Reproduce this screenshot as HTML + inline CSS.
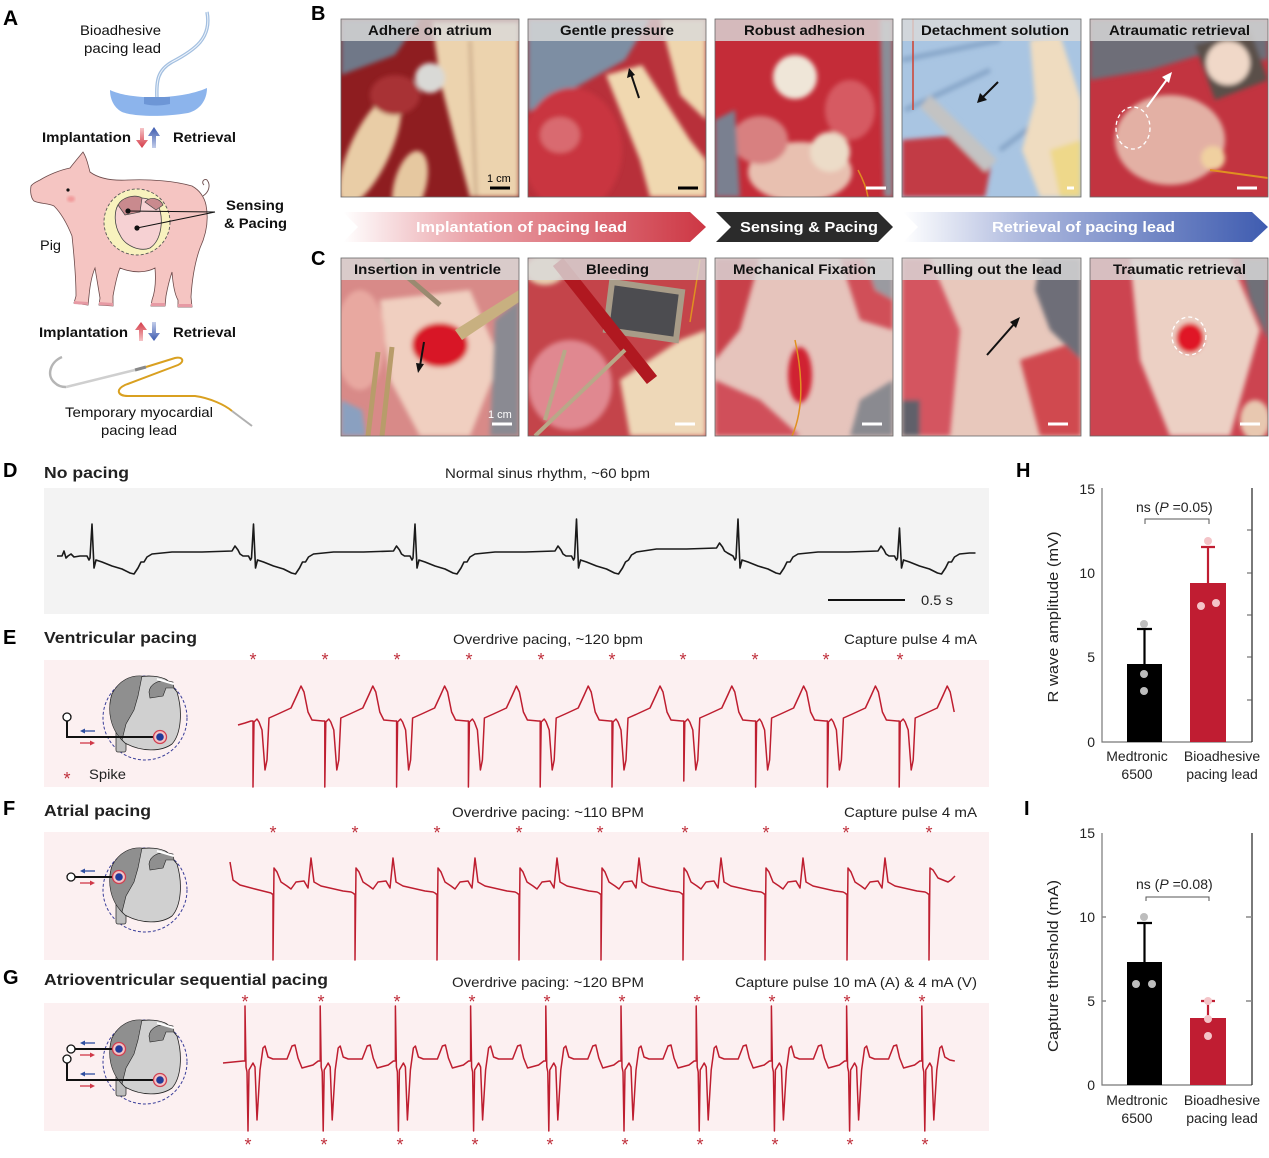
<!DOCTYPE html>
<html><head><meta charset="utf-8"><style>
html,body{margin:0;padding:0;background:#fff;}
svg{display:block;}
text{font-family:"Liberation Sans",Arial,sans-serif;}
</style></head><body>
<svg width="1269" height="1158" viewBox="0 0 1269 1158" xmlns="http://www.w3.org/2000/svg">
<defs>
<filter id="bl" x="-10%" y="-10%" width="120%" height="120%"><feGaussianBlur stdDeviation="2.5"/></filter>
<filter id="bl2"><feGaussianBlur stdDeviation="1.2"/></filter>
<clipPath id="cb1"><rect x="341" y="19" width="178" height="178"/></clipPath>
<clipPath id="cb2"><rect x="528" y="19" width="178" height="178"/></clipPath>
<clipPath id="cb3"><rect x="715" y="19" width="178" height="178"/></clipPath>
<clipPath id="cb4"><rect x="902" y="19" width="179" height="178"/></clipPath>
<clipPath id="cb5"><rect x="1090" y="19" width="178" height="178"/></clipPath>
<clipPath id="cc1"><rect x="341" y="258" width="178" height="178"/></clipPath>
<clipPath id="cc2"><rect x="528" y="258" width="178" height="178"/></clipPath>
<clipPath id="cc3"><rect x="715" y="258" width="178" height="178"/></clipPath>
<clipPath id="cc4"><rect x="902" y="258" width="179" height="178"/></clipPath>
<clipPath id="cc5"><rect x="1090" y="258" width="178" height="178"/></clipPath>
<linearGradient id="gRed" x1="0" x2="1" y1="0" y2="0"><stop offset="0" stop-color="#ffffff"/><stop offset="0.35" stop-color="#eaa3a9"/><stop offset="1" stop-color="#cd3744"/></linearGradient>
<linearGradient id="gBlue" x1="0" x2="1" y1="0" y2="0"><stop offset="0" stop-color="#ffffff"/><stop offset="0.35" stop-color="#a9b5dc"/><stop offset="1" stop-color="#3f5cb0"/></linearGradient>
<linearGradient id="aRd" x1="0" x2="0" y1="0" y2="1"><stop offset="0" stop-color="#f6c4c7"/><stop offset="1" stop-color="#d43a47"/></linearGradient>
<linearGradient id="aRu" x1="0" x2="0" y1="1" y2="0"><stop offset="0" stop-color="#f6c4c7"/><stop offset="1" stop-color="#d43a47"/></linearGradient>
<linearGradient id="aBu" x1="0" x2="0" y1="1" y2="0"><stop offset="0" stop-color="#c3cdea"/><stop offset="1" stop-color="#3a58ae"/></linearGradient>
<linearGradient id="aBd" x1="0" x2="0" y1="0" y2="1"><stop offset="0" stop-color="#c3cdea"/><stop offset="1" stop-color="#3a58ae"/></linearGradient>
<g id="hrt">
<circle r="42" fill="none" stroke="#3b3f9a" stroke-width="1" stroke-dasharray="3,2"/>
<rect x="-29" y="6" width="10" height="28" rx="2" fill="#bdbdbd" stroke="#333" stroke-width="0.8"/>
<path d="M-33,-24 C-24,-42 8,-46 22,-38 L32,-26 C38,-6 36,16 27,26 C16,34 -4,34 -20,25 C-34,12 -38,-8 -33,-24Z" fill="#d0d0d0" stroke="#222" stroke-width="0.8"/>
<path d="M-33,-24 C-26,-38 -14,-43 -3,-42 L-7,-22 L-11,-8 L-19,6 L-23,22 C-35,10 -38,-8 -33,-24Z" fill="#8f8f8f" stroke="#222" stroke-width="0.6"/>
<path d="M4,-26 C5,-34 14,-40 28,-36 L29,-30 L21,-30 L18,-22 L5,-20Z" fill="#8f8f8f" stroke="#222" stroke-width="0.6"/>
<path d="M12,-39 L29,-34" stroke="#fff" stroke-width="2"/>
</g>
<g id="elec"><circle r="6.5" fill="#f3c2c5" stroke="#d04050" stroke-width="1.3"/><circle r="3.8" fill="#1f3a9a"/></g>
<g id="larr"><path d="M0,0 L-13,0" stroke="#2e4ea0" stroke-width="1.3"/><path d="M-15,0 L-10,-2.5 L-10,2.5Z" fill="#2e4ea0"/></g>
<g id="rarr"><path d="M-15,0 L-2,0" stroke="#d03848" stroke-width="1.3"/><path d="M0,0 L-5,-2.5 L-5,2.5Z" fill="#d03848"/></g>
</defs>

<!-- ================= PANEL A ================= -->
<text x="3" y="25" font-size="21" font-weight="bold" fill="#000">A</text>
<text x="80" y="35" font-size="14" fill="#111" textLength="81" lengthAdjust="spacingAndGlyphs">Bioadhesive</text>
<text x="84" y="53" font-size="14" fill="#111" textLength="77" lengthAdjust="spacingAndGlyphs">pacing lead</text>
<path d="M157,99 C156,80 158,70 172,62 C195,50 212,38 207,12" fill="none" stroke="#a3bfe0" stroke-width="3.5"/>
<path d="M157,99 C156,80 158,70 172,62 C195,50 212,38 207,12" fill="none" stroke="#eef4fb" stroke-width="1"/>
<path d="M110,90 C130,100 180,100 207,88 C207,100 200,110 188,113 C165,117 135,117 122,112 C113,107 110,98 110,90 Z" fill="#8cb4ec"/>
<path d="M144,97 L170,97 L170,104 C160,106 152,106 144,104 Z" fill="#6d96d6"/>

<text x="42" y="142" font-size="14" font-weight="bold" fill="#111" textLength="89" lengthAdjust="spacingAndGlyphs">Implantation</text>
<path d="M140,128 L144,128 L144,140 L148,140 L142,148 L136,140 L140,140Z" fill="url(#aRd)"/>
<path d="M152,148 L156,148 L156,136 L160,136 L154,127 L148,136 L152,136Z" fill="url(#aBu)"/>
<text x="173" y="142" font-size="14" font-weight="bold" fill="#111" textLength="63" lengthAdjust="spacingAndGlyphs">Retrieval</text>

<!-- pig -->
<path d="M31,186 C30,192 31,198 34,201 C40,204 48,203 54,206 C62,214 68,226 72,236 C74,255 76,275 76,296 L74,303 L88,305 L89,296 C90,285 92,275 95,268 C97,280 99,292 100,298 L99,305 L113,306 L113,296 C115,285 117,275 120,268 C135,274 148,272 155,268 C156,280 155,292 152,300 L151,306 L165,306 L166,296 C168,285 170,278 172,272 C173,285 175,295 178,300 L178,307 L192,307 L191,297 C192,280 195,262 200,248 C206,235 209,220 206,205 C204,196 199,190 192,186 C175,181 150,179 128,180 C110,181 98,178 90,172 C88,165 87,158 83,152 C78,158 73,164 70,168 C60,170 48,175 40,180 C36,182 33,183 31,186 Z" fill="#f5c5c2" stroke="#6b4a4a" stroke-width="0.8"/>
<path d="M74,301 L88,302 L88,305 L74,304Z M99,302 L113,303 L113,306 L99,305Z M151,303 L165,303 L165,306 L151,306Z M178,304 L192,304 L192,307 L178,307Z" fill="#e69aa4"/>
<path d="M203,196 C209,192 211,185 207,180 C204,178 201,182 204,185" fill="none" stroke="#6b4a4a" stroke-width="0.9"/>
<circle cx="68" cy="190" r="1.6" fill="#111"/>
<ellipse cx="71" cy="199" rx="4" ry="3" fill="#f29a9a" filter="url(#bl2)"/>
<circle cx="137" cy="222" r="33" fill="#f8f2be" stroke="#555" stroke-width="0.9" stroke-dasharray="3,2"/>
<path d="M118,205 C125,196 150,195 158,205 C164,218 162,240 150,248 C140,252 125,246 120,235 C114,225 114,212 118,205Z" fill="#f6d1d3" stroke="#444" stroke-width="0.8"/>
<path d="M118,205 C122,197 135,194 142,198 L140,212 L125,215 Z" fill="#c98a8e" stroke="#444" stroke-width="0.7"/>
<path d="M145,202 C150,196 160,198 163,205 L156,210 Z" fill="#c98a8e" stroke="#444" stroke-width="0.7"/>
<path d="M128,211 L215,212 M137,228 L215,212" stroke="#111" stroke-width="1.1"/>
<circle cx="128" cy="211" r="2.6" fill="#111"/><circle cx="137" cy="228" r="2.6" fill="#111"/>
<text x="226" y="210" font-size="14" font-weight="bold" fill="#111" textLength="58" lengthAdjust="spacingAndGlyphs">Sensing</text>
<text x="224" y="228" font-size="14" font-weight="bold" fill="#111" textLength="63" lengthAdjust="spacingAndGlyphs">&amp; Pacing</text>
<text x="40" y="250" font-size="14" fill="#111" textLength="21" lengthAdjust="spacingAndGlyphs">Pig</text>

<text x="39" y="337" font-size="14" font-weight="bold" fill="#111" textLength="89" lengthAdjust="spacingAndGlyphs">Implantation</text>
<path d="M139,341 L143,341 L143,330 L147,330 L141,322 L135,330 L139,330Z" fill="url(#aRu)"/>
<path d="M152,322 L156,322 L156,333 L160,333 L154,341 L148,333 L152,333Z" fill="url(#aBd)"/>
<text x="173" y="337" font-size="14" font-weight="bold" fill="#111" textLength="63" lengthAdjust="spacingAndGlyphs">Retrieval</text>

<path d="M62,357 C50,362 46,376 55,383 C58,386 62,387 66,387" fill="none" stroke="#b5b5b5" stroke-width="2.5"/>
<path d="M66,387 L135,370" stroke="#cfcfcf" stroke-width="2.5"/>
<path d="M135,370 L146,367" stroke="#888" stroke-width="3"/>
<path d="M146,367 L175,358 C183,356 185,362 178,365 L125,385 C115,390 118,396 128,396 L195,396 C210,398 225,405 232,411" fill="none" stroke="#d9a020" stroke-width="2"/>
<path d="M232,411 L252,426" stroke="#b0b0b0" stroke-width="2"/>
<text x="65" y="417" font-size="14" fill="#111" textLength="148" lengthAdjust="spacingAndGlyphs">Temporary myocardial</text>
<text x="101" y="435" font-size="14" fill="#111" textLength="76" lengthAdjust="spacingAndGlyphs">pacing lead</text>

<!-- ================= PANEL B ================= -->
<text x="311" y="20" font-size="20" font-weight="bold" fill="#000">B</text>
<!-- B1 -->
<g clip-path="url(#cb1)">
<rect x="341" y="19" width="178" height="178" fill="#8e1d20"/>
<g filter="url(#bl)">
<path d="M341,19 L420,19 L395,55 L341,75Z" fill="#6f7888"/>
<path d="M432,22 L519,22 L519,197 L470,197 L455,140 L440,80 Z" fill="#ecd3ae"/>
<ellipse cx="370" cy="150" rx="20" ry="60" transform="rotate(25 370 150)" fill="#e9cda6"/>
<ellipse cx="410" cy="185" rx="16" ry="35" transform="rotate(15 410 185)" fill="#e6c8a0"/>
<path d="M470,40 L476,197" stroke="#c9a888" stroke-width="3"/>
<circle cx="430" cy="78" r="15" fill="#d9d9d6"/>
<ellipse cx="395" cy="95" rx="25" ry="20" fill="#a83036"/>
</g>
<path d="M490,188 L510,188" stroke="#000" stroke-width="3"/>
<text x="487" y="182" font-size="11" fill="#000">1 cm</text>
</g>
<!-- B2 -->
<g clip-path="url(#cb2)">
<rect x="528" y="19" width="178" height="178" fill="#b8303a"/>
<g filter="url(#bl)">
<path d="M528,19 L650,19 L625,60 L580,85 L528,112 Z" fill="#7d8ea3"/>
<ellipse cx="572" cy="150" rx="50" ry="62" fill="#c9363f"/>
<ellipse cx="560" cy="135" rx="20" ry="18" fill="#d96a70"/>
<path d="M606,75 L642,65 L690,140 L706,160 L706,197 L650,197 L640,160 Z" fill="#f0d8b0"/>
<path d="M660,19 L706,19 L706,120 L680,95 Z" fill="#efd6ae"/>
</g>
<path d="M639,98 L631,74" stroke="#111" stroke-width="2"/><path d="M629,68 L627,78 L635,75Z" fill="#111"/>
<path d="M678,188 L698,188" stroke="#000" stroke-width="3"/>
</g>
<!-- B3 -->
<g clip-path="url(#cb3)">
<rect x="715" y="19" width="178" height="178" fill="#c42c38"/>
<g filter="url(#bl)">
<ellipse cx="800" cy="172" rx="52" ry="30" fill="#e8c0b0"/>
<ellipse cx="760" cy="140" rx="28" ry="24" fill="#d88080"/>
<ellipse cx="850" cy="110" rx="25" ry="30" fill="#d65a62"/>
<path d="M715,120 L735,110 L740,197 L715,197 Z" fill="#7a8090"/>
<path d="M880,19 L893,19 L893,197 L884,197 Z" fill="#8a8e98"/>
<circle cx="795" cy="77" r="22" fill="#efe6d8"/>
<circle cx="830" cy="152" r="20" fill="#ecdcc8"/>
</g>
<path d="M858,170 Q866,185 868,197" fill="none" stroke="#e08a20" stroke-width="1.5"/>
<path d="M866,188 L886,188" stroke="#fff" stroke-width="3"/>
</g>
<!-- B4 -->
<g clip-path="url(#cb4)">
<rect x="902" y="19" width="179" height="178" fill="#a9c5e2"/>
<g filter="url(#bl)">
<path d="M902,60 L1000,40 M905,110 L990,70 M1000,150 L1040,120" stroke="#86a5c8" stroke-width="5" fill="none"/>
<path d="M902,140 L960,135 L992,160 L985,197 L902,197 Z" fill="#c23b45"/>
<path d="M930,95 L997,160 L985,172 L920,107Z" fill="#c3c3c3"/>
<path d="M1030,40 L1060,35 L1081,100 L1081,197 L1040,197 L1022,150 L1035,100 Z" fill="#efdcc0"/>
<path d="M1050,150 L1081,140 L1081,197 L1060,197Z" fill="#eed88a"/>
</g>
<path d="M913,19 L913,110" stroke="#d04030" stroke-width="1.5"/>
<path d="M998,82 L982,98" stroke="#111" stroke-width="2"/><path d="M977,103 L980,93 L987,100Z" fill="#111"/>
<path d="M1067,188 L1074,188" stroke="#fff" stroke-width="3"/>
</g>
<!-- B5 -->
<g clip-path="url(#cb5)">
<rect x="1090" y="19" width="178" height="178" fill="#c23440"/>
<g filter="url(#bl)">
<path d="M1090,19 L1268,19 L1268,60 L1200,55 L1150,70 L1090,80 Z" fill="#6e6e78"/>
<ellipse cx="1170" cy="140" rx="55" ry="45" fill="#e3b0a4"/>
<path d="M1195,45 L1250,30 L1268,80 L1215,100Z" fill="#5a5048"/>
<circle cx="1228" cy="63" r="22" fill="#f0d8c8"/>
<circle cx="1213" cy="158" r="12" fill="#f0d0a0"/>
</g>
<path d="M1210,170 L1268,178" stroke="#e09020" stroke-width="2"/>
<ellipse cx="1133" cy="128" rx="17" ry="21" fill="none" stroke="#fff" stroke-width="1.3" stroke-dasharray="4,3"/>
<path d="M1147,107 L1168,78" stroke="#fff" stroke-width="2"/><path d="M1172,72 L1162,77 L1169,83Z" fill="#fff"/>
<path d="M1237,188 L1257,188" stroke="#fff" stroke-width="3"/>
</g>
<!-- B headers -->
<g fill="#d9d9d9" fill-opacity="0.82">
<rect x="341" y="19" width="178" height="22"/><rect x="528" y="19" width="178" height="22"/><rect x="715" y="19" width="178" height="22"/><rect x="902" y="19" width="179" height="22"/><rect x="1090" y="19" width="178" height="22"/>
</g>
<g font-size="14" font-weight="bold" fill="#111">
<text x="368" y="35" textLength="124" lengthAdjust="spacingAndGlyphs">Adhere on atrium</text>
<text x="560" y="35" textLength="114" lengthAdjust="spacingAndGlyphs">Gentle pressure</text>
<text x="744" y="35" textLength="121" lengthAdjust="spacingAndGlyphs">Robust adhesion</text>
<text x="921" y="35" textLength="148" lengthAdjust="spacingAndGlyphs">Detachment solution</text>
<text x="1109" y="35" textLength="141" lengthAdjust="spacingAndGlyphs">Atraumatic retrieval</text>
</g>
<g fill="none" stroke="#666" stroke-width="0.8">
<rect x="341" y="19" width="178" height="178"/><rect x="528" y="19" width="178" height="178"/><rect x="715" y="19" width="178" height="178"/><rect x="902" y="19" width="179" height="178"/><rect x="1090" y="19" width="178" height="178"/>
</g>

<!-- banner -->
<path d="M343,212 L690,212 L706,227 L690,242 L343,242 L358,227Z" fill="url(#gRed)"/>
<path d="M716,212 L878,212 L893,227 L878,242 L716,242 L731,227Z" fill="#2b2b2b"/>
<path d="M903,212 L1252,212 L1268,227 L1252,242 L903,242 L918,227Z" fill="url(#gBlue)"/>
<g font-size="15" font-weight="bold" fill="#fff">
<text x="416" y="232" textLength="211" lengthAdjust="spacingAndGlyphs">Implantation of pacing lead</text>
<text x="740" y="232" textLength="138" lengthAdjust="spacingAndGlyphs">Sensing &amp; Pacing</text>
<text x="992" y="232" textLength="183" lengthAdjust="spacingAndGlyphs">Retrieval of pacing lead</text>
</g>

<!-- ================= PANEL C ================= -->
<text x="311" y="265" font-size="20" font-weight="bold" fill="#000">C</text>
<!-- C1 -->
<g clip-path="url(#cc1)">
<rect x="341" y="258" width="178" height="178" fill="#d88a88"/>
<g filter="url(#bl)">
<path d="M380,300 L470,290 L500,360 L470,436 L420,436 L390,380 Z" fill="#f0cfc0"/>
<ellipse cx="360" cy="340" rx="25" ry="50" fill="#e8a8a0"/>
<ellipse cx="440" cy="345" rx="28" ry="22" fill="#d81828"/>
<path d="M495,320 L519,300 L519,436 L490,436 Z" fill="#8a8a92"/>
<path d="M341,400 L362,410 L366,436 L341,436 Z" fill="#8aa0c0"/>
</g>
<path d="M385,258 L440,305" stroke="#9a8a70" stroke-width="5"/>
<path d="M378,352 L368,436 M392,347 L382,436" stroke="#b89c6a" stroke-width="5"/>
<path d="M455,330 L519,290 L519,302 L462,340Z" fill="#c8b080"/>
<path d="M424,342 L420,366" stroke="#111" stroke-width="2"/><path d="M418,373 L416,363 L424,364Z" fill="#111"/>
<path d="M492,424 L512,424" stroke="#fff" stroke-width="3"/>
<text x="488" y="418" font-size="11" fill="#fff">1 cm</text>
</g>
<!-- C2 -->
<g clip-path="url(#cc2)">
<rect x="528" y="258" width="178" height="178" fill="#c4444a"/>
<g filter="url(#bl)">
<ellipse cx="570" cy="385" rx="42" ry="45" fill="#e08890"/>
<ellipse cx="545" cy="270" rx="20" ry="15" fill="#e8d0b0"/>
<path d="M620,380 L680,340 L706,330 L706,436 L630,436 Z" fill="#eed8b8"/>
</g>
<path d="M612,282 L682,292 L676,340 L606,330Z" fill="#4c4c50" stroke="#a89c88" stroke-width="6"/>
<path d="M558,262 L652,380" stroke="#b01820" stroke-width="13"/>
<path d="M535,436 L625,350 M545,420 L565,350" stroke="#b8a888" stroke-width="4"/>
<path d="M700,260 L690,322" stroke="#e09020" stroke-width="1.5"/>
<path d="M675,424 L695,424" stroke="#fff" stroke-width="3"/>
</g>
<!-- C3 -->
<g clip-path="url(#cc3)">
<rect x="715" y="258" width="178" height="178" fill="#e6c4bc"/>
<g filter="url(#bl)">
<path d="M715,258 L760,258 L740,330 L715,360 Z" fill="#c8404a"/>
<path d="M715,380 L760,400 L800,436 L715,436 Z" fill="#d0505a"/>
<path d="M840,258 L893,258 L893,330 L860,320 Z" fill="#d05058"/>
<ellipse cx="800" cy="375" rx="12" ry="28" fill="#d02030"/>
<path d="M860,400 L893,380 L893,436 L850,436 Z" fill="#8a8a90"/>
<path d="M865,258 L893,258 L893,300 L875,290Z" fill="#9a9aa0"/>
</g>
<path d="M795,340 Q808,400 792,436" fill="none" stroke="#e09020" stroke-width="1.5"/>
<path d="M862,424 L882,424" stroke="#fff" stroke-width="3"/>
</g>
<!-- C4 -->
<g clip-path="url(#cc4)">
<rect x="902" y="258" width="179" height="178" fill="#e8c8bc"/>
<g filter="url(#bl)">
<path d="M902,258 L930,258 L960,330 L950,436 L902,436 Z" fill="#d45560"/>
<path d="M1020,360 L1081,340 L1081,436 L1040,436 Z" fill="#d04850"/>
<path d="M1040,258 L1081,258 L1081,360 L1050,330 L1035,290 Z" fill="#6e6e78"/>
<rect x="902" y="400" width="18" height="36" fill="#60606a"/>
</g>
<path d="M987,355 L1015,323" stroke="#111" stroke-width="2"/><path d="M1020,317 L1016,328 L1010,322Z" fill="#111"/>
<path d="M1048,424 L1068,424" stroke="#fff" stroke-width="3"/>
</g>
<!-- C5 -->
<g clip-path="url(#cc5)">
<rect x="1090" y="258" width="178" height="178" fill="#cc4450"/>
<g filter="url(#bl)">
<path d="M1130,258 L1230,258 L1260,330 L1230,436 L1170,436 L1140,360 Z" fill="#ecd0c4"/>
<path d="M1240,258 L1268,258 L1268,340 L1250,300 Z" fill="#707078"/>
<ellipse cx="1190" cy="338" rx="14" ry="15" fill="#e01828"/>
<ellipse cx="1255" cy="420" rx="15" ry="20" fill="#e8c8b0"/>
</g>
<ellipse cx="1189" cy="336" rx="17" ry="19" fill="none" stroke="#fff" stroke-width="1.3" stroke-dasharray="4,3"/>
<path d="M1240,424 L1260,424" stroke="#fff" stroke-width="3"/>
</g>
<g fill="#d9d9d9" fill-opacity="0.82">
<rect x="341" y="258" width="178" height="22"/><rect x="528" y="258" width="178" height="22"/><rect x="715" y="258" width="178" height="22"/><rect x="902" y="258" width="179" height="22"/><rect x="1090" y="258" width="178" height="22"/>
</g>
<g font-size="14" font-weight="bold" fill="#111">
<text x="354" y="274" textLength="147" lengthAdjust="spacingAndGlyphs">Insertion in ventricle</text>
<text x="586" y="274" textLength="63" lengthAdjust="spacingAndGlyphs">Bleeding</text>
<text x="733" y="274" textLength="143" lengthAdjust="spacingAndGlyphs">Mechanical Fixation</text>
<text x="923" y="274" textLength="139" lengthAdjust="spacingAndGlyphs">Pulling out the lead</text>
<text x="1113" y="274" textLength="133" lengthAdjust="spacingAndGlyphs">Traumatic retrieval</text>
</g>
<g fill="none" stroke="#666" stroke-width="0.8">
<rect x="341" y="258" width="178" height="178"/><rect x="528" y="258" width="178" height="178"/><rect x="715" y="258" width="178" height="178"/><rect x="902" y="258" width="179" height="178"/><rect x="1090" y="258" width="178" height="178"/>
</g>

<!-- ================= PANEL D ================= -->
<text x="3" y="477" font-size="20" font-weight="bold" fill="#000">D</text>
<text x="44" y="478" font-size="16" font-weight="bold" fill="#222" textLength="85" lengthAdjust="spacingAndGlyphs">No pacing</text>
<text x="445" y="478" font-size="14" fill="#222" textLength="205" lengthAdjust="spacingAndGlyphs">Normal sinus rhythm, ~60 bpm</text>
<rect x="44" y="488" width="945" height="126" fill="#f3f3f3"/>
<path fill="none" stroke="#1a1a1a" stroke-width="1.6" stroke-linejoin="round" d="M57,556 L62,556 L64,551 L66,558 L68,556 L71,554 L74,557 L80,556 L87,556
l2,4 l1,-2 l2,-34 l2,44 l2,-8 l6,2 l10,4 l10,3 l8,4 l4,1 l4,-6 l3,-6 l3,0 l3,-5 l5,-3 l20,-2 l30,0 l30,-1 l3,-5 l3,4 l2,4 l3,2 l5.5,0
l2,4 l1,-2 l2,-34 l2,44 l2,-8 l6,2 l10,4 l10,3 l8,4 l4,1 l4,-6 l3,-6 l3,0 l3,-5 l5,-3 l20,-2 l30,0 l30,-1 l3,-5 l3,4 l2,4 l3,2 l5.5,0
l2,4 l1,-2 l2,-34 l2,44 l2,-8 l6,2 l10,4 l10,3 l8,4 l4,1 l4,-6 l3,-6 l3,0 l3,-5 l5,-3 l20,-2 l30,0 l30,-1 l3,-5 l3,4 l2,4 l3,2 l5.5,0
l2,4 l1,-2 l2,-39 l2,49 l2,-8 l6,2 l10,4 l10,3 l8,4 l4,1 l4,-6 l3,-6 l3,-2 l3,-5 l5,-3 l20,-3 l30,0 l30,-1 l3,-5 l3,4 l2,4 l3,2 l5.5,3
l2,4 l1,-2 l2,-39 l2,49 l2,-8 l6,2 l10,4 l10,3 l8,4 l4,1 l4,-6 l3,-6 l3,0 l3,-5 l5,-3 l20,-2 l30,0 l30,-1 l3,-5 l3,4 l2,4 l3,2 l5.5,0
l2,4 l1,-2 l2,-30 l2,40 l2,-8 l6,2 l10,4 l10,3 l8,4 l4,1 l4,-6 l3,-6 l3,0 l3,-5 l5,-3 l10,-1 l6,0"/>
<path d="M828,600 L905,600" stroke="#111" stroke-width="2"/>
<text x="921" y="605" font-size="14" fill="#222" textLength="32" lengthAdjust="spacingAndGlyphs">0.5 s</text>

<!-- ================= PANEL E ================= -->
<text x="3" y="644" font-size="20" font-weight="bold" fill="#000">E</text>
<text x="44" y="643" font-size="16" font-weight="bold" fill="#222" textLength="153" lengthAdjust="spacingAndGlyphs">Ventricular pacing</text>
<text x="453" y="644" font-size="14" fill="#222" textLength="190" lengthAdjust="spacingAndGlyphs">Overdrive pacing, ~120 bpm</text>
<text x="844" y="644" font-size="14" fill="#222" textLength="133" lengthAdjust="spacingAndGlyphs">Capture pulse 4 mA</text>
<rect x="44" y="660" width="945" height="127" fill="#fcf0f1"/>
<g font-size="18" fill="#c0303c" text-anchor="middle">
<text x="253" y="666">*</text><text x="325" y="666">*</text><text x="397" y="666">*</text><text x="469" y="666">*</text><text x="541" y="666">*</text><text x="612" y="666">*</text><text x="683" y="666">*</text><text x="755" y="666">*</text><text x="826" y="666">*</text><text x="900" y="666">*</text>
</g>
<use href="#hrt" x="145" y="718"/>
<path d="M67,721 L67,737 L160,737" fill="none" stroke="#111" stroke-width="2"/>
<circle cx="67" cy="717" r="4" fill="#fff" stroke="#111" stroke-width="1.3"/>
<use href="#elec" x="160" y="737"/>
<use href="#larr" x="95" y="731"/>
<use href="#rarr" x="95" y="743"/>
<text x="67" y="785" font-size="18" fill="#c0303c" text-anchor="middle">*</text>
<text x="89" y="779" font-size="14" fill="#222" textLength="37" lengthAdjust="spacingAndGlyphs">Spike</text>
<path fill="none" stroke="#be1e30" stroke-width="1.5" stroke-linejoin="round" d="M238,725 L245,723 L251,721
l2,0 l0,66 l1,-65 l3,-3 l2,3 l3,8 l3,40 l2,-10 l2,-42 l9,-4 l13,-6 l6,-13 l4,-9 l3,6 l4,20 l4,8 l10.8,1
l2,0 l0,66 l1,-65 l3,-3 l2,3 l3,8 l3,40 l2,-10 l2,-42 l9,-4 l13,-6 l6,-13 l4,-9 l3,6 l4,20 l4,8 l10.8,1
l2,0 l0,66 l1,-65 l3,-3 l2,3 l3,8 l3,40 l2,-10 l2,-42 l9,-4 l13,-6 l6,-13 l4,-9 l3,6 l4,20 l4,8 l10.8,1
l2,0 l0,66 l1,-65 l3,-3 l2,3 l3,8 l3,40 l2,-10 l2,-42 l9,-4 l13,-6 l6,-13 l4,-9 l3,6 l4,20 l4,8 l10.8,1
l2,0 l0,66 l1,-65 l3,-3 l2,3 l3,8 l3,40 l2,-10 l2,-42 l9,-4 l13,-6 l6,-13 l4,-9 l3,6 l4,20 l4,8 l10.8,1
l2,0 l0,66 l1,-65 l3,-3 l2,3 l3,8 l3,40 l2,-10 l2,-42 l9,-4 l13,-6 l6,-13 l4,-9 l3,6 l4,20 l4,8 l10.8,1
l2,0 l0,60 l1,-59 l3,-3 l2,3 l3,8 l3,40 l2,-10 l2,-42 l9,-4 l13,-6 l6,-13 l4,-9 l3,6 l4,20 l4,8 l10.8,1
l2,0 l0,66 l1,-65 l3,-3 l2,3 l3,8 l3,40 l2,-10 l2,-42 l9,-4 l13,-6 l6,-13 l4,-9 l3,6 l4,20 l4,8 l10.8,1
l2,0 l0,66 l1,-65 l3,-3 l2,3 l3,8 l3,40 l2,-10 l2,-42 l9,-4 l13,-6 l6,-13 l4,-9 l3,6 l4,20 l4,8 l10.8,1
l2,0 l0,66 l1,-65 l3,-3 l2,3 l3,8 l3,40 l2,-10 l2,-42 l9,-4 l13,-6 l6,-13 l4,-9 l3,6 l4,20"/>

<!-- ================= PANEL F ================= -->
<text x="3" y="815" font-size="20" font-weight="bold" fill="#000">F</text>
<text x="44" y="816" font-size="16" font-weight="bold" fill="#222" textLength="107" lengthAdjust="spacingAndGlyphs">Atrial pacing</text>
<text x="452" y="817" font-size="14" fill="#222" textLength="192" lengthAdjust="spacingAndGlyphs">Overdrive pacing: ~110 BPM</text>
<text x="844" y="817" font-size="14" fill="#222" textLength="133" lengthAdjust="spacingAndGlyphs">Capture pulse 4 mA</text>
<rect x="44" y="832" width="945" height="128" fill="#fcf0f1"/>
<g font-size="18" fill="#c0303c" text-anchor="middle">
<text x="273" y="839">*</text><text x="355" y="839">*</text><text x="437" y="839">*</text><text x="519" y="839">*</text><text x="600" y="839">*</text><text x="685" y="839">*</text><text x="766" y="839">*</text><text x="846" y="839">*</text><text x="929" y="839">*</text>
</g>
<use href="#hrt" x="145" y="890"/>
<path d="M75,877 L119,877" stroke="#111" stroke-width="2"/>
<circle cx="71" cy="877" r="4" fill="#fff" stroke="#111" stroke-width="1.3"/>
<use href="#elec" x="119" y="877"/>
<use href="#larr" x="95" y="871"/>
<use href="#rarr" x="95" y="883"/>
<path fill="none" stroke="#be1e30" stroke-width="1.5" stroke-linejoin="round" d="M230,862 L233,880 L240,885 L255,889 L271,893
l1,1 l1,0 l0,66 l1,-92 l3,4 l4,10 l6,4 l4,3 l5,-7 l8,-1 l4,7 l3,-30 l3,24 l7,4 l22,5 l8,1 l2,1
l1,1 l1,0 l0,66 l1,-92 l3,4 l4,10 l6,4 l4,3 l5,-7 l8,-1 l4,7 l3,-30 l3,24 l7,4 l22,5 l8,1 l2,1
l1,1 l1,0 l0,66 l1,-92 l3,4 l4,10 l6,4 l4,3 l5,-7 l8,-1 l4,7 l3,-30 l3,24 l7,4 l22,5 l8,1 l2,1
l1,1 l1,0 l0,66 l1,-92 l3,4 l4,10 l6,4 l4,3 l5,-7 l8,-1 l4,7 l3,-30 l3,24 l7,4 l22,5 l8,1 l2,1
l1,1 l1,0 l0,66 l1,-92 l3,4 l4,10 l6,4 l4,3 l5,-7 l8,-1 l4,7 l3,-30 l3,24 l7,4 l22,5 l8,1 l2,1
l1,1 l1,0 l0,66 l1,-92 l3,4 l4,10 l6,4 l4,3 l5,-7 l8,-1 l4,7 l3,-30 l3,24 l7,4 l22,5 l8,1 l2,1
l1,1 l1,0 l0,66 l1,-92 l3,4 l4,10 l6,4 l4,3 l5,-7 l8,-1 l4,7 l3,-30 l3,24 l7,4 l22,5 l8,1 l2,1
l1,1 l1,0 l0,66 l1,-92 l3,4 l4,10 l6,4 l4,3 l5,-7 l8,-1 l4,7 l3,-30 l3,24 l7,4 l22,5 l8,1 l2,1
l1,1 l1,0 l0,66 l1,-92 l3,2 l5,8 l10,4 l3,-2 l4,-4"/>

<!-- ================= PANEL G ================= -->
<text x="3" y="984" font-size="20" font-weight="bold" fill="#000">G</text>
<text x="44" y="985" font-size="16" font-weight="bold" fill="#222" textLength="284" lengthAdjust="spacingAndGlyphs">Atrioventricular sequential pacing</text>
<text x="452" y="987" font-size="14" fill="#222" textLength="192" lengthAdjust="spacingAndGlyphs">Overdrive pacing: ~120 BPM</text>
<text x="735" y="987" font-size="14" fill="#222" textLength="242" lengthAdjust="spacingAndGlyphs">Capture pulse 10 mA (A) &amp; 4 mA (V)</text>
<rect x="44" y="1003" width="945" height="128" fill="#fcf0f1"/>
<g font-size="18" fill="#c0303c" text-anchor="middle">
<text x="245" y="1008">*</text><text x="321" y="1008">*</text><text x="397" y="1008">*</text><text x="472" y="1008">*</text><text x="547" y="1008">*</text><text x="622" y="1008">*</text><text x="697" y="1008">*</text><text x="772" y="1008">*</text><text x="847" y="1008">*</text><text x="922" y="1008">*</text>
<text x="248" y="1151">*</text><text x="324" y="1151">*</text><text x="400" y="1151">*</text><text x="475" y="1151">*</text><text x="550" y="1151">*</text><text x="625" y="1151">*</text><text x="700" y="1151">*</text><text x="775" y="1151">*</text><text x="850" y="1151">*</text><text x="925" y="1151">*</text>
</g>
<use href="#hrt" x="145" y="1062"/>
<path d="M75,1049 L119,1049" stroke="#111" stroke-width="2"/>
<path d="M67,1063 L67,1080 L160,1080" fill="none" stroke="#111" stroke-width="2"/>
<circle cx="71" cy="1049" r="4" fill="#fff" stroke="#111" stroke-width="1.3"/>
<circle cx="67" cy="1059" r="4" fill="#fff" stroke="#111" stroke-width="1.3"/>
<use href="#elec" x="119" y="1049"/>
<use href="#elec" x="160" y="1080"/>
<use href="#larr" x="95" y="1043"/>
<use href="#rarr" x="95" y="1055"/>
<use href="#larr" x="95" y="1074"/>
<use href="#rarr" x="95" y="1086"/>
<path fill="none" stroke="#be1e30" stroke-width="1.5" stroke-linejoin="round" d="M223,1063 L233,1062 L243,1061
l2,0 l0,-55 l1,61 l1,5 l1,59 l1,-61 l4,-7 l2,4 l2,53 l3,-50 l3,-22 l2,-2 l3,11 l5,2 l14,0 l5,-13 l3,-1 l3,13 l4,10 l11,-3 l5.2,-4
l2,0 l0,-55 l1,61 l1,5 l1,59 l1,-61 l4,-7 l2,4 l2,53 l3,-50 l3,-22 l2,-2 l3,11 l5,2 l14,0 l5,-13 l3,-1 l3,13 l4,10 l11,-3 l5.2,-4
l2,0 l0,-55 l1,61 l1,5 l1,59 l1,-61 l4,-7 l2,4 l2,53 l3,-50 l3,-22 l2,-2 l3,11 l5,2 l14,0 l5,-13 l3,-1 l3,13 l4,10 l11,-3 l5.2,-4
l2,0 l0,-55 l1,61 l1,5 l1,59 l1,-61 l4,-7 l2,4 l2,53 l3,-50 l3,-22 l2,-2 l3,11 l5,2 l14,0 l5,-13 l3,-1 l3,13 l4,10 l11,-3 l5.2,-4
l2,0 l0,-55 l1,61 l1,5 l1,59 l1,-61 l4,-7 l2,4 l2,53 l3,-50 l3,-22 l2,-2 l3,11 l5,2 l14,0 l5,-13 l3,-1 l3,13 l4,10 l11,-3 l5.2,-4
l2,0 l0,-55 l1,61 l1,5 l1,59 l1,-61 l4,-7 l2,4 l2,53 l3,-50 l3,-22 l2,-2 l3,11 l5,2 l14,0 l5,-13 l3,-1 l3,13 l4,10 l11,-3 l5.2,-4
l2,0 l0,-55 l1,61 l1,5 l1,59 l1,-61 l4,-7 l2,4 l2,53 l3,-50 l3,-22 l2,-2 l3,11 l5,2 l14,0 l5,-13 l3,-1 l3,13 l4,10 l11,-3 l5.2,-4
l2,0 l0,-55 l1,61 l1,5 l1,59 l1,-61 l4,-7 l2,4 l2,53 l3,-50 l3,-22 l2,-2 l3,11 l5,2 l14,0 l5,-13 l3,-1 l3,13 l4,10 l11,-3 l5.2,-4
l2,0 l0,-55 l1,61 l1,5 l1,59 l1,-61 l4,-7 l2,4 l2,53 l3,-50 l3,-22 l2,-2 l3,11 l5,2 l14,0 l5,-13 l3,-1 l3,13 l4,10 l11,-3 l5.2,-4
l2,0 l0,-55 l1,61 l1,5 l1,59 l1,-61 l4,-7 l2,4 l2,53 l3,-50 l3,-22 l2,-2 l3,11 l5,3 l5,1"/>

<!-- ================= PANEL H ================= -->
<text x="1016" y="477" font-size="20" font-weight="bold" fill="#000">H</text>
<path d="M1102,488 L1102,742 L1252,742" fill="none" stroke="#777" stroke-width="1.2"/>
<path d="M1252,488 L1252,742" stroke="#222" stroke-width="1.2"/>
<path d="M1252,530 L1247,530 M1252,573 L1247,573 M1252,615 L1247,615 M1252,657 L1247,657 M1252,700 L1247,700" stroke="#555" stroke-width="1"/>
<g font-size="14" fill="#222" text-anchor="end">
<text x="1095" y="494">15</text><text x="1095" y="578">10</text><text x="1095" y="662">5</text><text x="1095" y="747">0</text>
</g>
<text transform="translate(1058,617) rotate(-90)" font-size="15" fill="#222" text-anchor="middle" textLength="171" lengthAdjust="spacingAndGlyphs">R wave amplitude (mV)</text>
<rect x="1127" y="664" width="35" height="78" fill="#000"/>
<rect x="1190" y="583" width="36" height="159" fill="#c01d32"/>
<path d="M1144.5,664 L1144.5,629 M1137,629 L1152,629" stroke="#000" stroke-width="2.2"/>
<path d="M1208,583 L1208,547 M1201,547 L1215,547" stroke="#c01d32" stroke-width="2.2"/>
<g fill="#bdbdbd"><circle cx="1144" cy="624" r="4"/><circle cx="1144" cy="674" r="4"/><circle cx="1144" cy="691" r="4"/></g>
<g fill="#f4c4c8"><circle cx="1201" cy="606" r="4"/><circle cx="1216" cy="603" r="4"/><circle cx="1208" cy="541" r="4"/></g>
<path d="M1145,524 L1145,519 L1209,519 L1209,524" fill="none" stroke="#555" stroke-width="1"/>
<text x="1136" y="512" font-size="14" fill="#222">ns (<tspan font-style="italic">P</tspan> =0.05)</text>
<g font-size="14" fill="#222" text-anchor="middle">
<text x="1137" y="761">Medtronic</text><text x="1137" y="779">6500</text>
<text x="1222" y="761">Bioadhesive</text><text x="1222" y="779">pacing lead</text>
</g>

<!-- ================= PANEL I ================= -->
<text x="1024" y="815" font-size="20" font-weight="bold" fill="#000">I</text>
<path d="M1102,833 L1102,1085 L1252,1085" fill="none" stroke="#777" stroke-width="1.2"/>
<path d="M1252,833 L1252,1085" stroke="#222" stroke-width="1.2"/>
<path d="M1252,917 L1246,917 M1252,1001 L1246,1001 M1102,917 L1106,917 M1102,1001 L1106,1001" stroke="#888" stroke-width="1.5"/>
<g font-size="14" fill="#222" text-anchor="end">
<text x="1095" y="838">15</text><text x="1095" y="922">10</text><text x="1095" y="1006">5</text><text x="1095" y="1090">0</text>
</g>
<text transform="translate(1058,966) rotate(-90)" font-size="15" fill="#222" text-anchor="middle" textLength="172" lengthAdjust="spacingAndGlyphs">Capture threshold (mA)</text>
<rect x="1127" y="962" width="35" height="123" fill="#000"/>
<rect x="1190" y="1018" width="36" height="67" fill="#c01d32"/>
<path d="M1144.5,962 L1144.5,923 M1137,923 L1152,923" stroke="#000" stroke-width="2.2"/>
<path d="M1208,1018 L1208,1001 M1201,1001 L1215,1001" stroke="#c01d32" stroke-width="2.2"/>
<g fill="#bdbdbd"><circle cx="1144" cy="917" r="4"/><circle cx="1136" cy="984" r="4"/><circle cx="1152" cy="984" r="4"/></g>
<g fill="#f4c4c8"><circle cx="1208" cy="1001" r="4"/><circle cx="1208" cy="1019" r="4"/><circle cx="1208" cy="1036" r="4"/></g>
<path d="M1146,901 L1146,897 L1209,897 L1209,901" fill="none" stroke="#555" stroke-width="1"/>
<text x="1136" y="889" font-size="14" fill="#222">ns (<tspan font-style="italic">P</tspan> =0.08)</text>
<g font-size="14" fill="#222" text-anchor="middle">
<text x="1137" y="1105">Medtronic</text><text x="1137" y="1123">6500</text>
<text x="1222" y="1105">Bioadhesive</text><text x="1222" y="1123">pacing lead</text>
</g>
</svg>
</body></html>
